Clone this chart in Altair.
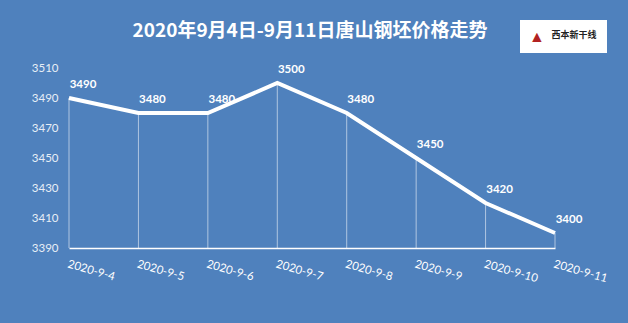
import altair as alt
import pandas as pd

dates = ["2020-9-4", "2020-9-5", "2020-9-6", "2020-9-7", "2020-9-8", "2020-9-9", "2020-9-10", "2020-9-11"]
prices = [3490, 3480, 3480, 3500, 3480, 3450, 3420, 3400]
y_ticks = [3390, 3410, 3430, 3450, 3470, 3490, 3510]
title_text = "2020年9月4日-9月11日唐山钢坯价格走势"
logo_text = "西本新干线"

df = pd.DataFrame({"date": dates, "price": prices, "base": [y_ticks[0]] * len(dates)})

FONT = "Lato"
BG = "#4F81BD"

x_enc = alt.X("date:N", sort=dates, scale=alt.Scale(type="point", padding=0),
              axis=alt.Axis(title=None, labelAngle=16, labelAlign="left", labelBaseline="top",
                            labelPadding=10, ticks=False, domain=True, domainColor="#ffffff",
                            domainWidth=1.5, labelColor="#ffffff", labelFontSize=11.5,
                            labelFont=FONT, grid=False, labelOverlap=False))
y_enc = alt.Y("price:Q", scale=alt.Scale(domain=[y_ticks[0], y_ticks[-1]], nice=False, zero=False),
              axis=alt.Axis(title=None, values=y_ticks, format="d", ticks=False, domain=False,
                            grid=False, labelOverlap=False, labelColor="#e8eef6",
                            labelFontSize=11.5, labelFont=FONT, labelPadding=11))

drops = alt.Chart(df).mark_rule(color="#ffffff", strokeWidth=1, opacity=0.55).encode(
    x=x_enc, y=y_enc, y2="base:Q")

line = alt.Chart(df).mark_line(color="#ffffff", strokeWidth=4).encode(x=x_enc, y=y_enc)

labels = alt.Chart(df).mark_text(color="#ffffff", fontSize=11.5, fontWeight="bold", font=FONT,
                                 dx=14, dy=-13).encode(x=x_enc, y=y_enc, text="price:Q")

title = alt.Chart(pd.DataFrame({"t": [title_text]})).mark_text(
    color="#ffffff", fontSize=19, fontWeight="bold", font="Noto Sans CJK SC").encode(
    x=alt.value(241), y=alt.value(-37), text="t:N")

logo_box = alt.Chart(pd.DataFrame({"a": [0]})).mark_rect(color="#ffffff").encode(
    x=alt.value(451), x2=alt.value(538), y=alt.value(-48), y2=alt.value(-15))
logo_mark = alt.Chart(pd.DataFrame({"t": ["▲"]})).mark_text(
    color="#b22222", fontSize=16).encode(x=alt.value(468), y=alt.value(-31), text="t:N")
logo_txt = alt.Chart(pd.DataFrame({"t": [logo_text]})).mark_text(
    color="#222222", fontSize=9, fontWeight="bold", font="Noto Sans CJK SC").encode(
    x=alt.value(505), y=alt.value(-33), text="t:N")

chart = alt.layer(drops, line, labels, title, logo_box, logo_mark, logo_txt).properties(
    width=486, height=180,
    autosize=alt.AutoSizeParams(type="none"),
    padding={"left": 69, "top": 68, "right": 73, "bottom": 75},
    background=BG,
).configure_view(stroke=None).configure_axis(labelOverlap=False)

chart.save("out.html", embed_options={"renderer": "svg", "actions": False})
